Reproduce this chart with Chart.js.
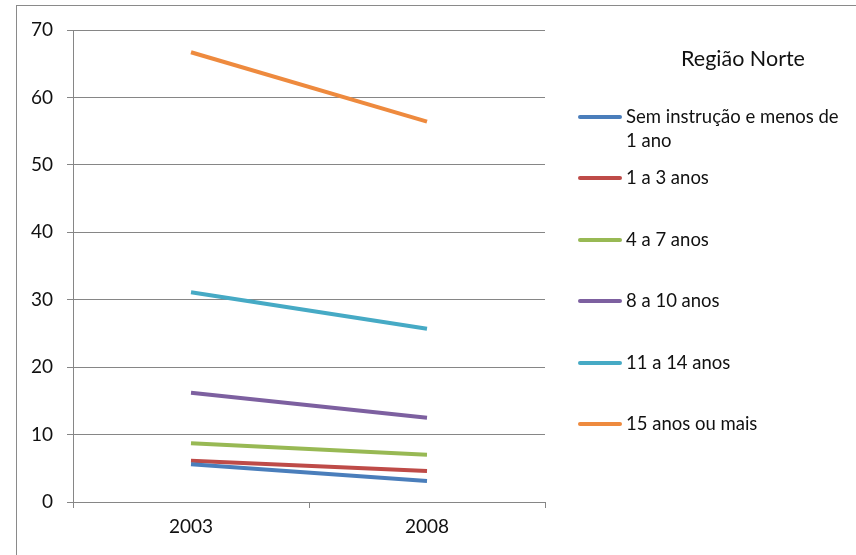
<!DOCTYPE html>
<html>
<head>
<meta charset="utf-8">
<script src="https://cdn.jsdelivr.net/npm/chart.js@4/dist/chart.umd.min.js"></script>
<style>
    html, body { margin: 0; padding: 0; background: #fff; overflow: hidden; }
    body { width: 856px; height: 555px; position: relative; font-family: Lato, "Open Sans", sans-serif; }
    #frame { position: absolute; left: 16px; top: 5px; width: 900px; height: 600px; border: 1.5px solid #8a8a8a; box-sizing: border-box; }
    #wrap { position: absolute; left: 0; top: 0; width: 856px; height: 555px; }
    #legend-title { position: absolute; left: 640px; width: 206px; top: 45px; text-align: center; font-size: 21.5px; color: #111; }
    #legend { position: absolute; left: 578px; top: 104px; }
    .item { height: 61.4px; display: flex; align-items: flex-start; }
    .swatch { width: 44px; height: 4px; border-radius: 2px; margin-top: 11px; flex: none; }
    .label { margin-left: 4px; font-size: 18.5px; line-height: 24px; color: #111; max-width: 222px; }
</style>
</head>
<body>
<div id="frame"></div>
<div id="wrap"><canvas id="chart" width="856" height="555"></canvas></div>
<div id="legend-title">Região Norte</div>
<div id="legend"></div>
<script>
// 資料
const years = ['2003', '2008'];
const seriesNames = [
    'Sem instrução e menos de 1 ano',
    '1 a 3 anos',
    '4 a 7 anos',
    '8 a 10 anos',
    '11 a 14 anos',
    '15 anos ou mais'
];
const semInstrucao = [5.6, 3.1];
const umATres = [6.1, 4.6];
const quatroASete = [8.7, 7.0];
const oitoADez = [16.2, 12.5];
const onzeAQuatorze = [31.1, 25.7];
const quinzeOuMais = [66.7, 56.4];
const seriesColors = ['#4a7ebb', '#be4b48', '#98b954', '#7d60a0', '#46aac5', '#ee8a3e'];

const allSeries = [semInstrucao, umATres, quatroASete, oitoADez, onzeAQuatorze, quinzeOuMais];

const gridColor = '#868686';
const fontFamily = 'Lato, "Open Sans", sans-serif';

const ctx = document.getElementById('chart').getContext('2d');
const chart = new Chart(ctx, {
    type: 'line',
    data: {
        labels: years,
        datasets: allSeries.map((values, i) => ({
            label: seriesNames[i],
            data: values,
            borderColor: seriesColors[i],
            backgroundColor: seriesColors[i],
            borderWidth: 4,
            pointRadius: 0,
            tension: 0,
            fill: false
        }))
    },
    options: {
        responsive: false,
        animation: false,
        layout: { padding: { left: 0, right: 311, top: 30, bottom: 0 } },
        plugins: {
            legend: { display: false },
            tooltip: { enabled: false }
        },
        scales: {
            x: {
                offset: true,
                grid: { drawOnChartArea: false, offset: true, tickLength: 6, color: gridColor, lineWidth: 1 },
                border: { color: gridColor, width: 1 },
                ticks: { color: '#111', font: { family: fontFamily, size: 19 }, padding: 7 },
                afterFit: (scale) => { scale.height = 53; }
            },
            y: {
                min: 0,
                max: 70,
                ticks: { stepSize: 10, color: '#111', font: { family: fontFamily, size: 19 }, padding: 14 },
                grid: { color: gridColor, lineWidth: 1, tickLength: 6 },
                border: { color: gridColor, width: 1 },
                afterFit: (scale) => { scale.width = 73; }
            }
        }
    }
});

// 圖例
const legendEl = document.getElementById('legend');
chart.data.datasets.forEach((ds) => {
    const row = document.createElement('div');
    row.className = 'item';
    const sw = document.createElement('div');
    sw.className = 'swatch';
    sw.style.background = ds.borderColor;
    const lb = document.createElement('div');
    lb.className = 'label';
    lb.textContent = ds.label;
    row.appendChild(sw);
    row.appendChild(lb);
    legendEl.appendChild(row);
});
</script>
</body>
</html>
